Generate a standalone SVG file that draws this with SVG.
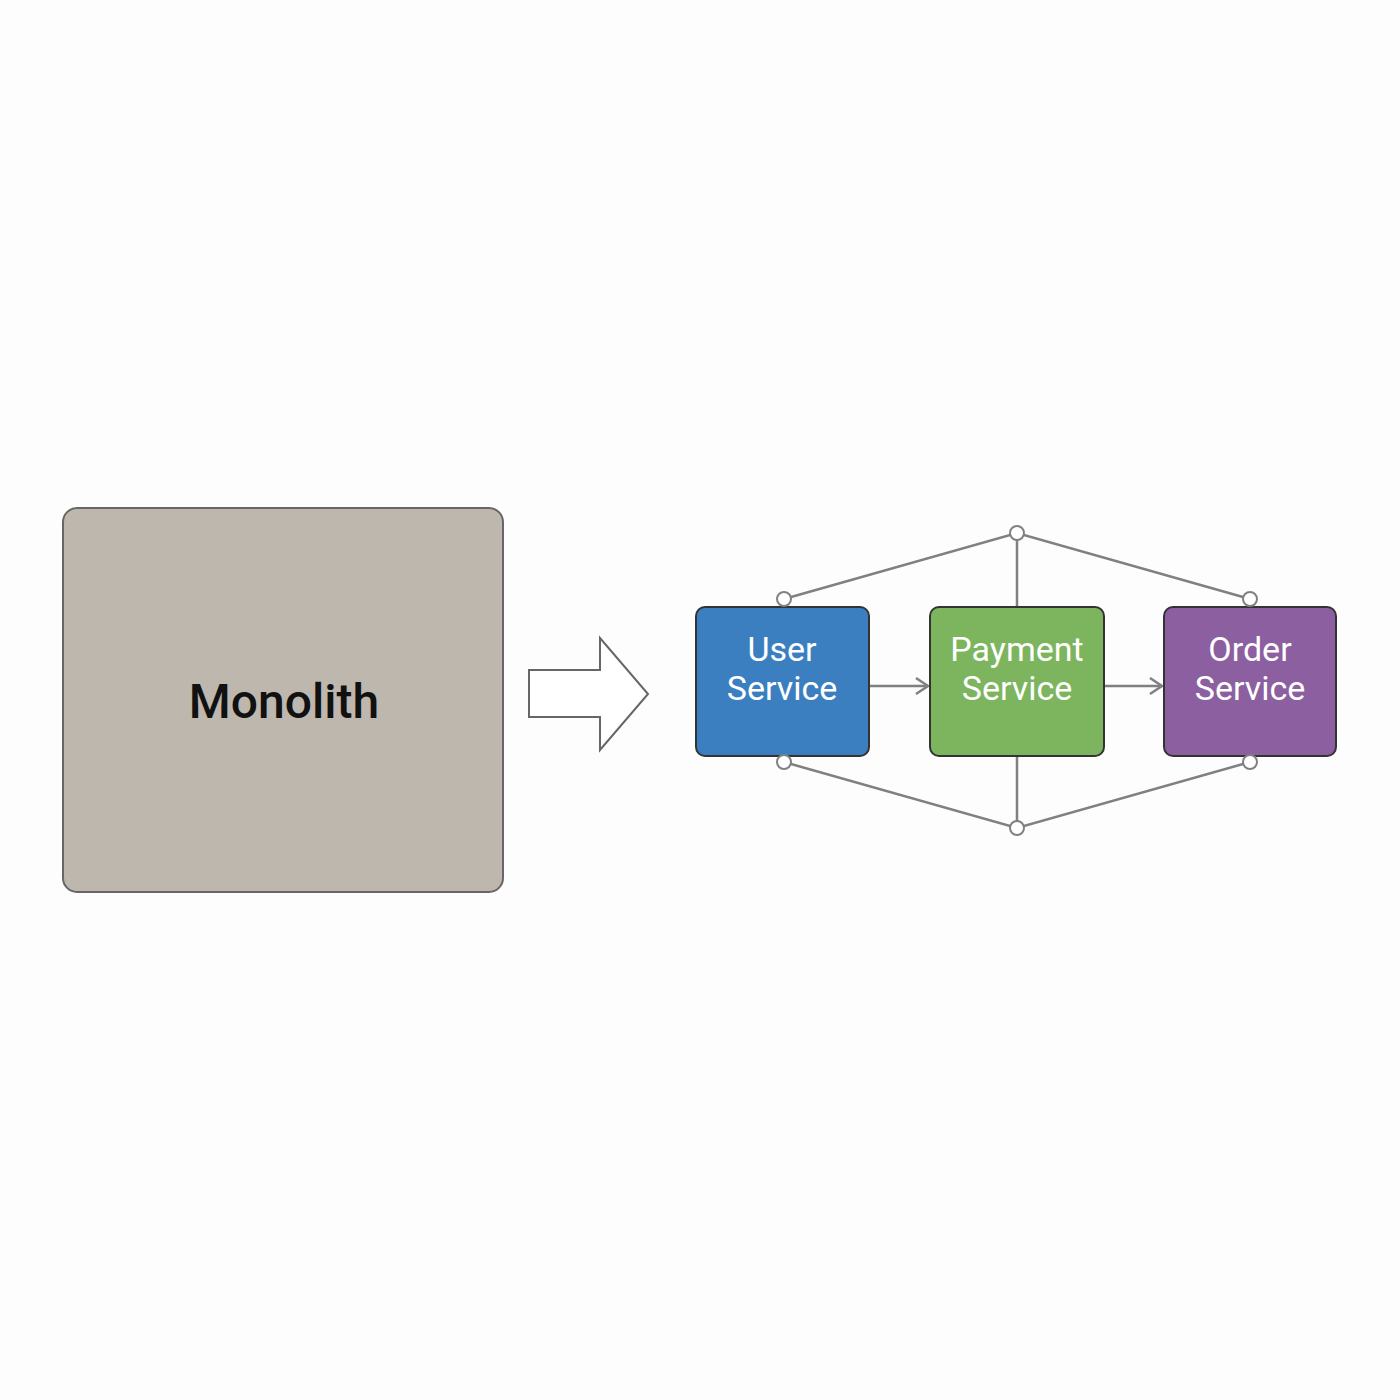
<svg xmlns="http://www.w3.org/2000/svg" width="1400" height="1400" viewBox="0 0 1400 1400">
<style>
.svc{stroke:#333;stroke-width:2}
.lbl{font-family:Roboto,"Liberation Sans",sans-serif;font-size:34px;fill:#fff;text-anchor:middle}
.ln{stroke:#808080;stroke-width:2.5;fill:none}
.dot{fill:#fff;stroke:#808080;stroke-width:2}
</style>
<defs><marker id="ah" markerWidth="18" markerHeight="20" refX="14" refY="10" orient="auto" markerUnits="userSpaceOnUse"><path d="M2,2 L14,10 L2,18" fill="none" stroke="#808080" stroke-width="2.5"/></marker></defs>
<rect width="1400" height="1400" fill="#fdfdfd"/>
<g id="monolith">
<rect x="63" y="508" width="440" height="384" rx="14" fill="#beb7ae" stroke="#666" stroke-width="2"/>
<text x="284" y="718" font-family="Roboto,'Liberation Sans',sans-serif" font-size="48" font-weight="500" text-anchor="middle" fill="#111">Monolith</text>
</g>
<g id="bigarrow"><path d="M529,670 H600 V638 L648,694 L600,750 V717 H529 Z" fill="#fff" stroke="#666" stroke-width="2"/></g>
<g id="connectors">
<path class="ln" d="M784,599 L1017,533 L1250,599 M1017,533 V607 M784,762 L1017,828 L1250,762 M1017,828 V756"/>
<path class="ln" d="M870,686 H928" marker-end="url(#ah)"/>
<path class="ln" d="M1104,686 H1162" marker-end="url(#ah)"/>
</g>
<g id="user"><rect class="svc" x="696" y="607" width="173" height="149" rx="9" fill="#3c7fc0"/><text class="lbl" x="782" y="661">User</text><text class="lbl" x="782" y="700">Service</text></g>
<g id="payment"><rect class="svc" x="930" y="607" width="174" height="149" rx="9" fill="#7cb55e"/><text class="lbl" x="1017" y="661">Payment</text><text class="lbl" x="1017" y="700">Service</text></g>
<g id="order"><rect class="svc" x="1164" y="607" width="172" height="149" rx="9" fill="#8b5fa0"/><text class="lbl" x="1250" y="661">Order</text><text class="lbl" x="1250" y="700">Service</text></g>
<g id="dots">
<circle class="dot" cx="784" cy="599" r="7"/><circle class="dot" cx="1017" cy="533" r="7"/><circle class="dot" cx="1250" cy="599" r="7"/>
<circle class="dot" cx="784" cy="762" r="7"/><circle class="dot" cx="1017" cy="828" r="7"/><circle class="dot" cx="1250" cy="762" r="7"/>
</g>
</svg>
